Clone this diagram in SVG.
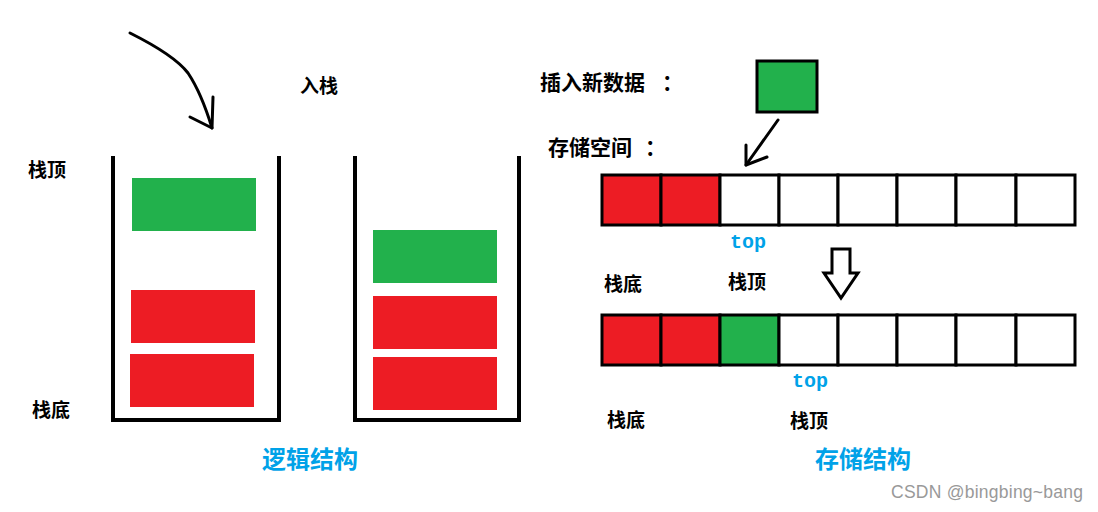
<svg xmlns="http://www.w3.org/2000/svg" width="1098" height="512" viewBox="0 0 1098 512">
<style>
.lbl{font-family:"Noto Sans CJK SC","Liberation Sans",sans-serif;font-weight:bold;font-size:19px;fill:#000}
.big{font-family:"Noto Sans CJK SC","Liberation Sans",sans-serif;font-weight:bold;font-size:24px;fill:#00a2e8}
.top{font-family:"Liberation Mono",monospace;font-weight:bold;font-size:20px;fill:#00a2e8}
.wall{fill:none;stroke:#000;stroke-width:4}
.cell{stroke:#000;stroke-width:3}
.r{fill:#ed1c24}.g{fill:#22b14c}.w{fill:#fff}
.ln{fill:none;stroke:#000;stroke-width:3;stroke-linecap:round;stroke-linejoin:round}
</style>
<rect width="1098" height="512" fill="#fff"/>
<g id="stack-left">
<polyline class="wall" points="113,156 113,420 279,420 279,156"/>
<rect class="g" x="132" y="178" width="124" height="53"/>
<rect class="r" x="131" y="290" width="124" height="53"/>
<rect class="r" x="130" y="354" width="124" height="53"/>
</g>
<g id="stack-right">
<polyline class="wall" points="355,156 355,420 519,420 519,156"/>
<rect class="g" x="373" y="230" width="124" height="53"/>
<rect class="r" x="373" y="296" width="124" height="53"/>
<rect class="r" x="373" y="357" width="124" height="53"/>
</g>
<g id="labels-left">
<text class="lbl" x="28" y="177">栈顶</text>
<text class="lbl" x="32" y="417">栈底</text>
<text class="lbl" x="300" y="93">入栈</text>
<text class="big" x="262" y="468">逻辑结构</text>
</g>
<g id="new-data">
<text class="lbl" x="540" y="90" style="font-size:21px">插入新数据<tspan x="662">：</tspan></text>
<rect class="cell g" x="757" y="61" width="60" height="51"/>
</g>
<g id="array-1">
<text class="lbl" x="548" y="155" style="font-size:21px">存储空间<tspan x="645">：</tspan></text>
<rect class="cell r" x="602" y="175" width="59" height="50"/>
<rect class="cell r" x="661" y="175" width="59" height="50"/>
<rect class="cell w" x="720" y="175" width="59" height="50"/>
<rect class="cell w" x="779" y="175" width="59" height="50"/>
<rect class="cell w" x="838" y="175" width="59" height="50"/>
<rect class="cell w" x="897" y="175" width="59" height="50"/>
<rect class="cell w" x="956" y="175" width="60" height="50"/>
<rect class="cell w" x="1016" y="175" width="59" height="50"/>
<text class="top" x="730" y="248">top</text>
<text class="lbl" x="604" y="291">栈底</text>
<text class="lbl" x="728" y="289">栈顶</text>
</g>
<g id="array-2">
<rect class="cell r" x="602" y="315" width="59" height="50"/>
<rect class="cell r" x="661" y="315" width="59" height="50"/>
<rect class="cell g" x="720" y="315" width="59" height="50"/>
<rect class="cell w" x="779" y="315" width="59" height="50"/>
<rect class="cell w" x="838" y="315" width="59" height="50"/>
<rect class="cell w" x="897" y="315" width="59" height="50"/>
<rect class="cell w" x="956" y="315" width="60" height="50"/>
<rect class="cell w" x="1016" y="315" width="59" height="50"/>
<text class="top" x="792" y="387">top</text>
<text class="lbl" x="607" y="427">栈底</text>
<text class="lbl" x="790" y="428">栈顶</text>
<text class="big" x="815" y="468">存储结构</text>
</g>
<g id="connectors">
<path class="ln" d="M130,33 C160,48 178,60 188,73 C198,88 205,105 212,128"/>
<polyline class="ln" points="213,97 212,128 190,117"/>
<line class="ln" x1="778" y1="120" x2="746" y2="165"/>
<polyline class="ln" points="746,145 746,165 767,157"/>
<polygon fill="#fff" stroke="#000" stroke-width="3" points="832,249 850,249 850,273 858,273 841,298 824,273 832,273"/>
</g>
<text x="891" y="498" textLength="192" style="font-family:'Liberation Sans',sans-serif;font-size:17.5px;fill:#999">CSDN @bingbing~bang</text>
</svg>
